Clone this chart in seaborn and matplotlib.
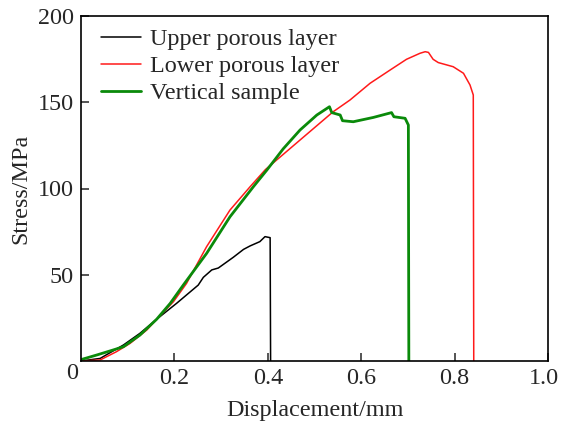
import numpy as np
import pandas as pd
import matplotlib
matplotlib.use("Agg")
import matplotlib.pyplot as plt
import matplotlib.transforms as mtransforms
import seaborn as sns

# ---- data ----
upper_disp = [0, 0.041, 0.091, 0.126, 0.162, 0.205, 0.251, 0.262, 0.280, 0.294,
              0.326, 0.348, 0.362, 0.383, 0.394, 0.405, 0.406]
upper_stress = [0, 1.5, 9.3, 16, 24.2, 33.5, 44, 48.5, 52.8, 53.9,
                60.1, 64.7, 66.7, 69.2, 72.1, 71.5, 0]

lower_disp = [0, 0.041, 0.076, 0.105, 0.141, 0.162, 0.198, 0.226, 0.269, 0.319,
              0.362, 0.395, 0.469, 0.540, 0.576, 0.619, 0.662, 0.697, 0.726, 0.737,
              0.744, 0.754, 0.765, 0.797, 0.819, 0.833, 0.840, 0.841]
lower_stress = [0, 0.6, 5.4, 10.2, 18, 24.2, 34.4, 45, 66.3, 87.5,
                101, 111, 128.1, 144.5, 151.3, 161, 168.7, 174.9, 178.4, 179.3,
                178.9, 174.9, 173, 170.6, 166.8, 160, 154.2, 0]

vert_disp = [0, 0.034, 0.069, 0.091, 0.126, 0.162, 0.191, 0.219, 0.269, 0.319,
             0.369, 0.398, 0.433, 0.469, 0.505, 0.532, 0.537, 0.555, 0.560, 0.583,
             0.626, 0.665, 0.670, 0.694, 0.701, 0.702]
vert_stress = [0.8, 3.5, 6.4, 8.3, 15, 24.2, 33.4, 44, 62.4, 83.6,
               101, 110.7, 123, 133.9, 142.6, 147.4, 144, 142.6, 139.3, 138.7,
               141.2, 144, 141.6, 140.7, 136.8, 0]

series_names = ["Upper porous layer", "Lower porous layer", "Vertical sample"]
colors = ["#000000", "#ff1a1a", "#0a8a0a"]
widths = [1.1, 1.1, 2.0]

x_ticks = [0.2, 0.4, 0.6, 0.8, 1.0]
x_ticklabels = ["0.2", "0.4", "0.6", "0.8", "1.0"]
y_ticks = [50, 100, 150, 200]
y_ticklabels = ["50", "100", "150", "200"]

FS = 17.4

# ---- style ----
sns.set_style("ticks")
plt.rcParams["font.family"] = ["Liberation Serif", "DejaVu Serif"]
plt.rcParams["font.size"] = FS

fig = plt.figure(figsize=(5.61, 4.26), dpi=100)
ax = fig.add_axes([81 / 561, 1 - 361 / 426, 467 / 561, 345 / 426])

frames = []
for name, d, s in zip(series_names,
                      [upper_disp, lower_disp, vert_disp],
                      [upper_stress, lower_stress, vert_stress]):
    frames.append(pd.DataFrame({"Displacement": d, "Stress": s, "Series": name}))
df = pd.concat(frames, ignore_index=True)

for name, c, lw in zip(series_names, colors, widths):
    sub = df[df["Series"] == name]
    sns.lineplot(data=sub, x="Displacement", y="Stress", sort=False,
                 estimator=None, color=c, linewidth=lw, label=name, ax=ax)

ax.set_xlim(0, 1.0)
ax.set_ylim(0, 200)
ax.set_xticks(x_ticks)
ax.set_xticklabels(x_ticklabels)
ax.set_yticks(y_ticks)
ax.set_yticklabels(y_ticklabels)
ax.tick_params(direction="in", length=5.5, width=1.1, labelsize=FS, pad=5,
               top=False, right=False)
for sp in ax.spines.values():
    sp.set_linewidth(1.2)
    sp.set_color("black")

# nudge the last x tick label slightly left so it stays inside the figure
last = ax.get_xticklabels()[-1]
last.set_transform(last.get_transform() +
                   mtransforms.ScaledTranslation(-4 / 100, 0, fig.dpi_scale_trans))

ax.text(-0.019, -0.037, "0", transform=ax.transAxes, ha="center", va="center",
        fontsize=FS)

ax.set_xlabel("Displacement/mm", fontsize=FS, labelpad=8)
ax.set_ylabel("Stress/MPa", fontsize=FS, labelpad=5)

leg = ax.legend(loc="upper left", bbox_to_anchor=(0.043, 0.965), frameon=False,
                borderpad=0, borderaxespad=0, handlelength=1.65,
                handletextpad=0.37, labelspacing=0.22, fontsize=FS)

fig.savefig("out.png", dpi=100)
